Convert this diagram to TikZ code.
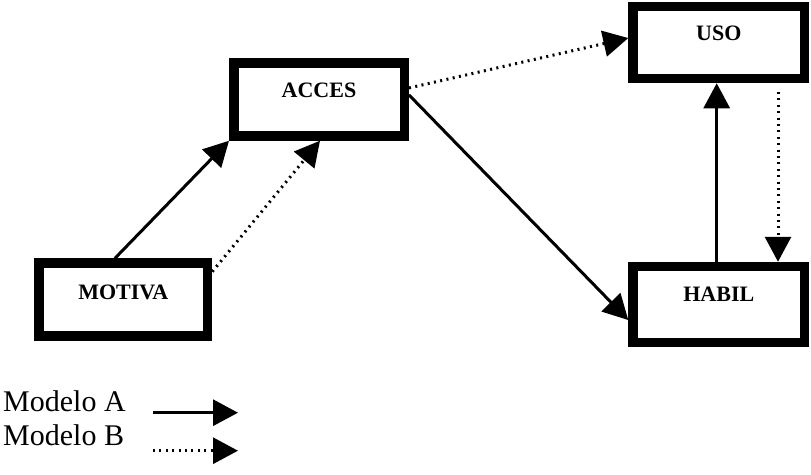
\documentclass[tikz,border=0pt]{standalone}
\usepackage{fontspec}
\setmainfont{Liberation Serif}
\usetikzlibrary{arrows.meta,calc}
\newcommand{\boxlbl}[2]{\raisebox{#1}[\height][\depth]{#2}\hspace{6pt}}
\begin{document}
\begin{tikzpicture}[x=1pt,y=-1pt,
  box/.style={draw, line width=9.5pt, inner sep=0pt, font=\fontsize{22}{26}\selectfont\bfseries},
  solidarr/.style={line width=3pt, -{Triangle[length=25pt,width=26pt]}},
  dotarr/.style={line width=3pt, dash pattern=on 2pt off 4.4pt, -{Triangle[length=25pt,width=26pt]}},
  legtxt/.style={font=\fontsize{30}{36}\selectfont, inner sep=0pt, anchor=base west}]
\useasboundingbox (0,0) rectangle (811,474);
\node[box, minimum width=168.5pt, minimum height=73pt] (motiva) at (123.3,299.5) {\boxlbl{7.5pt}{MOTIVA}};
\node[box, minimum width=170.5pt, minimum height=73pt] (acces) at (319,99.5) {\boxlbl{9.5pt}{ACCES}};
\node[box, minimum width=171.5pt, minimum height=72pt] (uso) at (718.8,42.5) {\boxlbl{9.2pt}{USO}};
\node[box, minimum width=171.5pt, minimum height=76pt] (habil) at (718.8,304.5) {\boxlbl{10.3pt}{HABIL}};
\draw[solidarr] ($(motiva.north west)+(80.7,0)$) -- (acces.south west);
\draw[dotarr] ($(motiva.north east)+(0,13.4)$) -- ($(acces.south west)+(91,0)$);
\draw[dotarr] ($(acces.north east)+(0,29.7)$) -- ($(uso.north west)+(0,36.3)$);
\draw[solidarr] ($(acces.north east)+(0,36.7)$) -- ($(habil.north west)+(0,58.3)$);
\draw[solidarr] ($(habil.north west)+(88.4,0)$) -- ($(uso.south west)+(88.4,0)$);
\draw[dotarr] ($(uso.south west)+(149.7,8.7)$) -- ($(habil.north west)+(149.7,0)$);
\node[legtxt] (la) at (3,411.7) {Modelo A};
\node[legtxt] (lb) at (3,445) {Modelo B};
\coordinate (las) at (153,412.7);
\coordinate (lae) at (238,412.7);
\coordinate (lbs) at (153,450.7);
\coordinate (lbe) at (238,450.7);
\draw[solidarr] (las) -- (lae);
\draw[dotarr] (lbs) -- (lbe);
\end{tikzpicture}
\end{document}
